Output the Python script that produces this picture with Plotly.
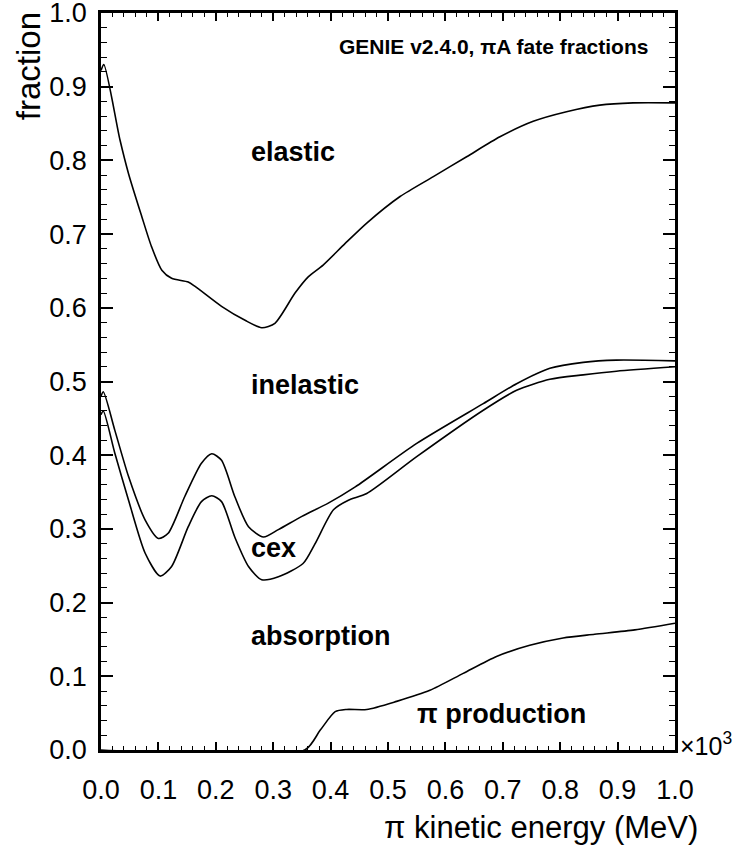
import plotly.graph_objects as go

# --- data (x in units of 10^3 MeV) ---
elastic_x = [0.0, 0.005, 0.033, 0.048, 0.071, 0.088, 0.106, 0.123, 0.152, 0.164, 0.21, 0.251, 0.28, 0.303,
             0.338, 0.361, 0.387, 0.425, 0.463, 0.521, 0.579, 0.637, 0.695, 0.753, 0.811, 0.869, 0.927, 1.0]
elastic_y = [0.922, 0.93, 0.828, 0.782, 0.724, 0.683, 0.651, 0.640, 0.635, 0.629, 0.602, 0.583, 0.573, 0.579,
             0.620, 0.642, 0.658, 0.687, 0.715, 0.751, 0.778, 0.805, 0.832, 0.853, 0.866, 0.875, 0.878, 0.878]

inelastic_x = [0.0, 0.004, 0.024, 0.048, 0.077, 0.100, 0.117, 0.146, 0.175, 0.193, 0.210, 0.233, 0.257, 0.283,
               0.309, 0.350, 0.396, 0.443, 0.550, 0.666, 0.724, 0.782, 0.840, 0.898, 1.0]
inelastic_y = [0.48, 0.486, 0.434, 0.371, 0.312, 0.287, 0.294, 0.344, 0.389, 0.402, 0.393, 0.344, 0.303, 0.289,
               0.299, 0.317, 0.335, 0.357, 0.416, 0.470, 0.497, 0.518, 0.526, 0.529, 0.528]

cex_x = [0.0, 0.004, 0.024, 0.048, 0.077, 0.103, 0.123, 0.152, 0.175, 0.193, 0.210, 0.233, 0.257, 0.280, 0.309,
         0.352, 0.373, 0.405, 0.431, 0.463, 0.550, 0.666, 0.724, 0.782, 0.840, 0.898, 1.0]
cex_y = [0.455, 0.46, 0.403, 0.339, 0.267, 0.236, 0.249, 0.303, 0.337, 0.345, 0.337, 0.289, 0.249, 0.231, 0.235,
         0.253, 0.280, 0.326, 0.339, 0.348, 0.398, 0.461, 0.488, 0.503, 0.509, 0.514, 0.520]

piprod_x = [0.0, 0.355, 0.382, 0.408, 0.428, 0.463, 0.515, 0.573, 0.631, 0.689, 0.747, 0.805, 0.86, 0.93, 1.0]
piprod_y = [0.0, 0.0, 0.027, 0.052, 0.055, 0.055, 0.066, 0.081, 0.104, 0.127, 0.142, 0.152, 0.157, 0.163, 0.172]

region_labels = ["elastic", "inelastic", "cex", "absorption", "π production"]
region_label_x = [0.258, 0.258, 0.258, 0.258, 0.547]
region_label_y = [0.811, 0.495, 0.274, 0.155, 0.049]

FONT = "Liberation Sans, Arial, Helvetica, sans-serif"

fig = go.Figure()
for xs, ys in [(elastic_x, elastic_y), (inelastic_x, inelastic_y), (cex_x, cex_y), (piprod_x, piprod_y)]:
    fig.add_trace(go.Scatter(x=xs, y=ys, mode="lines",
                             line=dict(color="black", width=1.6, shape="spline", smoothing=0.7),
                             showlegend=False, hoverinfo="skip"))

for txt, lx, ly in zip(region_labels, region_label_x, region_label_y):
    fig.add_annotation(x=lx, y=ly, xref="x", yref="y", text="<b>" + txt + "</b>", showarrow=False,
                       xanchor="left", yanchor="middle", font=dict(size=27, color="black", family=FONT))

fig.add_annotation(x=0.956, y=0.954, xref="x", yref="y", text="<b>GENIE v2.4.0, πA fate fractions</b>",
                   showarrow=False, xanchor="right", yanchor="middle",
                   font=dict(size=21, color="black", family=FONT))

# axis titles
fig.add_annotation(x=-0.127, y=1.004, xref="paper", yref="paper", text="fraction", textangle=-90,
                   showarrow=False, xanchor="center", yanchor="top",
                   font=dict(size=33, color="black", family=FONT))
fig.add_annotation(x=1.0436, y=-0.1045, xref="paper", yref="paper", text="π kinetic energy (MeV)",
                   showarrow=False, xanchor="right", yanchor="middle",
                   font=dict(size=31, color="black", family=FONT))
fig.add_annotation(x=1.006, y=0.008, xref="paper", yref="paper", text="×10<sup>3</sup>",
                   showarrow=False, xanchor="left", yanchor="middle",
                   font=dict(size=25, color="black", family=FONT))

fig.update_xaxes(range=[0, 1.0], tickmode="linear", tick0=0, dtick=0.1, tickformat=".1f",
                 ticks="inside", ticklen=8, tickwidth=1.5, tickcolor="black",
                 minor=dict(ticks="inside", dtick=0.02, ticklen=4, tickwidth=1.2, tickcolor="black", showgrid=False),
                 showline=True, linecolor="black", linewidth=2.5, mirror="allticks", automargin=False,
                 showgrid=False, zeroline=False, ticklabelstandoff=14, ticklabeloverflow="allow",
                 tickfont=dict(size=27, color="black", family=FONT))
fig.update_yaxes(range=[0, 1.0], tickmode="linear", tick0=0, dtick=0.1, tickformat=".1f",
                 ticks="inside", ticklen=12, tickwidth=1.5, tickcolor="black",
                 minor=dict(ticks="inside", dtick=0.02, ticklen=6, tickwidth=1.2, tickcolor="black", showgrid=False),
                 showline=True, linecolor="black", linewidth=2.5, mirror="allticks", automargin=False,
                 showgrid=False, zeroline=False, ticklabelstandoff=6, ticklabeloverflow="allow",
                 tickfont=dict(size=27, color="black", family=FONT))

fig.update_layout(width=741, height=850, margin=dict(l=101, r=66, t=13, b=100, autoexpand=False),
                  paper_bgcolor="white", plot_bgcolor="white", font=dict(family=FONT, color="black"))

# remove the page's default 8px body margin so the figure fills the window exactly
fig.write_html("out.html", config={"displayModeBar": False},
               post_script="document.body.style.margin='0';document.body.style.overflow='hidden';")
